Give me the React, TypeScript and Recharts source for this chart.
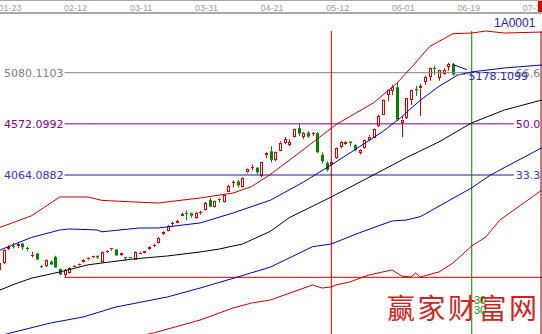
import React from "react";
import { ComposedChart, Bar, Line, XAxis, YAxis, ReferenceLine } from "recharts";

// trading days shown, 01-20 .. 06-15 (day 0 = 01-23)
const firstDay = -3;
const dates = [
  "01-20", "01-21", "01-22", "01-23", "01-26", "01-27", "01-28", "01-29", "01-30",
  "02-02", "02-03", "02-04", "02-05", "02-06", "02-09", "02-10", "02-11", "02-12", "02-13",
  "02-16", "02-17", "02-25", "02-26", "02-27",
  "03-02", "03-03", "03-04", "03-05", "03-06", "03-09", "03-10", "03-11", "03-12", "03-13",
  "03-16", "03-17", "03-18", "03-19", "03-20", "03-23", "03-24", "03-25", "03-26", "03-27",
  "03-30", "03-31",
  "04-01", "04-02", "04-03", "04-07", "04-08", "04-09", "04-10", "04-13", "04-14", "04-15",
  "04-16", "04-17", "04-20", "04-21", "04-22", "04-23", "04-24", "04-27", "04-28", "04-29", "04-30",
  "05-04", "05-05", "05-06", "05-07", "05-08", "05-11", "05-12", "05-13", "05-14", "05-15",
  "05-18", "05-19", "05-20", "05-21", "05-22", "05-25", "05-26", "05-27", "05-28", "05-29",
  "06-01", "06-02", "06-03", "06-04", "06-05", "06-08", "06-09", "06-10", "06-11", "06-12", "06-15",
];
const opens = [
  3130, 3190, 3335, 3360, 3358, 3384, 3338, 3262, 3285,
  3165, 3160, 3205, 3250, 3130, 3075, 3095, 3155, 3165, 3200,
  3225, 3248, 3262, 3205, 3298,
  3325, 3325, 3268, 3245, 3245, 3225, 3285, 3290, 3330, 3360,
  3390, 3480, 3510, 3575, 3590, 3660, 3690, 3685, 3640, 3685,
  3715, 3815,
  3750, 3828, 3795, 3900, 3985, 4000, 3945, 4090, 4140, 4138,
  4055, 4260, 4300, 4215, 4310, 4385, 4365, 4440, 4530, 4440, 4485,
  4470, 4480, 4265, 4185, 4165, 4235, 4345, 4380, 4395, 4360,
  4285, 4335, 4420, 4440, 4550, 4665, 4860, 4900, 4935, 4590,
  4630, 4810, 4920, 4925, 4990, 5040, 5125, 5030, 5075, 5140, 5165,
];
const highs = [
  3210, 3325, 3368, 3390, 3390, 3392, 3350, 3300, 3292,
  3172, 3225, 3215, 3262, 3135, 3130, 3148, 3168, 3185, 3228,
  3245, 3262, 3265, 3305, 3320,
  3340, 3330, 3290, 3250, 3250, 3308, 3305, 3310, 3355, 3385,
  3448, 3505, 3570, 3600, 3620, 3690, 3715, 3690, 3700, 3710,
  3795, 3835,
  3815, 3835, 3870, 3965, 4010, 4015, 4040, 4128, 4168, 4140,
  4195, 4290, 4350, 4300, 4400, 4440, 4420, 4525, 4570, 4490, 4500,
  4490, 4490, 4290, 4200, 4210, 4340, 4405, 4405, 4400, 4370,
  4320, 4420, 4460, 4530, 4660, 4815, 4912, 4960, 4986, 4650,
  4830, 4910, 4950, 4970, 5050, 5130, 5147, 5110, 5125, 5178.1099, 5176,
];
const lows = [
  3110, 3180, 3318, 3335, 3340, 3320, 3305, 3245, 3218,
  3140, 3150, 3170, 3140, 3068, 3048.07, 3085, 3150, 3158, 3195,
  3215, 3240, 3230, 3195, 3288,
  3310, 3260, 3260, 3215, 3225, 3220, 3278, 3285, 3320, 3350,
  3385, 3470, 3505, 3555, 3585, 3655, 3615, 3640, 3630, 3670,
  3710, 3745,
  3742, 3790, 3790, 3895, 3940, 3940, 3940, 4080, 4110, 4070,
  4040, 4230, 4190, 4200, 4300, 4370, 4350, 4435, 4450, 4420, 4435,
  4450, 4280, 4180, 4100, 4150, 4225, 4330, 4365, 4350, 4300,
  4270, 4325, 4400, 4430, 4540, 4660, 4800, 4860, 4600, 4440,
  4620, 4760, 4850, 4650, 4960, 5000, 5060, 5000, 5060, 5100, 5050,
];
const closes = [
  3195, 3320, 3350, 3354, 3380, 3345, 3325, 3272, 3225,
  3152, 3215, 3175, 3145, 3075, 3120, 3142, 3162, 3178, 3215,
  3235, 3255, 3245, 3300, 3312,
  3335, 3265, 3285, 3240, 3232, 3302, 3293, 3305, 3345, 3372,
  3440, 3495, 3560, 3585, 3605, 3675, 3685, 3660, 3690, 3695,
  3785, 3750,
  3810, 3822, 3865, 3955, 3995, 3960, 4035, 4120, 4145, 4090,
  4190, 4280, 4215, 4295, 4385, 4420, 4390, 4520, 4475, 4480, 4445,
  4478, 4290, 4200, 4115, 4195, 4335, 4395, 4395, 4380, 4310,
  4310, 4415, 4446, 4525, 4650, 4810, 4905, 4940, 4615, 4615,
  4828, 4905, 4905, 4945, 5035, 5125, 5115, 5105, 5110, 5165, 5062,
];

// date labels along the top
const tickDays = [0, 14, 28, 42, 56, 70, 84, 98, 112];
const tickLabels = ["01-23", "02-12", "03-11", "03-31", "04-21", "05-12", "06-01", "06-19", "07-10"];

// channel lines, [day, value]
const upperRed = [
  [-3, 3540], [4, 3660], [10, 3846], [16, 3846], [19, 3812], [26, 3796], [31, 3786], [40, 3836],
  [47, 3885], [51, 3950], [55, 4070], [61, 4280], [69, 4565], [77, 4780], [82, 4975], [85, 5127],
  [89, 5340], [94, 5468], [98, 5474], [101, 5494], [105, 5474], [113, 5484],
];
const upperBlue = [
  [-3, 3315], [1, 3389], [4, 3445], [10, 3518], [12, 3528], [18, 3518], [19, 3500], [27, 3538],
  [31, 3538], [40, 3588], [47, 3687], [55, 3814], [62, 3993], [68, 4164], [73, 4314], [79, 4495],
  [83, 4641], [87, 4806], [91, 4945], [95, 5056], [98, 5088], [105, 5127], [113, 5157],
];
const middle = [
  [-3, 2918], [1, 2992], [4, 3040], [10, 3101], [16, 3172], [21, 3202], [26, 3232], [33, 3260],
  [40, 3300], [44, 3328], [47, 3359], [49, 3378], [55, 3505], [59, 3640], [68, 3846], [77, 4064],
  [84, 4236], [91, 4393], [98, 4582], [105, 4710], [113, 4809],
];
const lowerBlue = [
  [-3, 2462], [-1, 2490], [8, 2594], [15, 2654], [22, 2753], [33, 2853], [40, 2942], [48, 3051],
  [55, 3150], [64, 3352], [68, 3379], [74, 3490], [81, 3608], [84, 3617], [87, 3650], [98, 3937],
  [102, 4064], [113, 4335],
];
const lowerRed = [
  [23, 2426], [30, 2495], [40, 2624], [47, 2743], [51, 2793], [55, 2823], [61, 2922], [64, 2972],
  [66, 2942], [68, 2952], [69, 2972], [72, 3002], [76, 3071], [81, 3121], [83, 3061], [85, 3051],
  [86, 3091], [87, 3051], [91, 3101], [94, 3190], [98, 3359], [101, 3448], [104, 3617], [113, 3915],
];
const pointer = [[94, 5160], [97, 5110]];

// percentage levels measured from the low of 02-09
const lowDay = 11;
const lowLevel = 3048.0662;
const levels = [5080.1103, 4572.0992, 4064.0882];
const levelNames = ["5080.1103", "4572.0992", "4064.0882"];
const levelPcts = ["66.6", "50.0", "33.3"];
const levelEnd = 107;
const peakText = "5178.1099";
const lastClose = 5062;
const markDays = [68, 98, 112.8];
const markTop = 5494;

const RED = "#d40000";
const GREEN = "#007f00";
const BAND_RED = "#c40000";
const BAND_BLUE = "#0000b0";
const levelColors = ["#808080", "#800080", "#1818a0"];
const levelTextColors = ["#808080", "#800080", "#3434c8"];
const markColors = ["#c00000", "#008000", "#800000"];
const Y_DOMAIN = [2485, 5673];
const X_DOMAIN = [-2.777, 113.01];
const FONT = "DejaVu Sans, Verdana, sans-serif";

const candles = dates.map((date, i) => ({
  day: firstDay + i,
  date,
  open: opens[i],
  high: highs[i],
  low: lows[i],
  close: closes[i],
  range: [lows[i], highs[i]],
}));

const toPoints = (pts: number[][]) => pts.map(([day, v]) => ({ day, v }));

const Candle = (props: any) => {
  const { x, y, width, height, payload } = props;
  if (payload == null || !isFinite(y) || !isFinite(height)) return null;
  const { open, close, high, low } = payload;
  const up = close >= open;
  const color = up ? RED : GREEN;
  const cx = Math.round(x + width / 2);
  const span = high - low || 1;
  const yOf = (v: number) => y + ((high - v) / span) * height;
  const top = yOf(Math.max(open, close));
  const bottom = yOf(Math.min(open, close));
  const flat = bottom - top < 1.5;
  return (
    <g>
      <line x1={cx + 0.5} x2={cx + 0.5} y1={y} y2={top} stroke={color} />
      <line x1={cx + 0.5} x2={cx + 0.5} y1={bottom} y2={y + height} stroke={color} />
      {flat ? (
        <line x1={cx - 1} x2={cx + 2} y1={Math.round(top) + 0.5} y2={Math.round(top) + 0.5} stroke={color} />
      ) : up ? (
        <rect x={cx - 0.5} y={Math.round(top) + 0.5} width={2} height={Math.round(bottom - top) - 1} fill="#fff" stroke={color} />
      ) : (
        <rect x={cx - 1} y={top} width={3} height={bottom - top} fill={color} />
      )}
    </g>
  );
};

const DateTick = (props: any) => {
  const { x, y, payload } = props;
  const idx = tickDays.indexOf(payload.value);
  return (
    <text x={x - 3} y={y} textAnchor="middle" fontSize={9} fill="#9c9c9c" fontFamily="Liberation Sans, Arial, sans-serif">
      {tickLabels[idx]}
    </text>
  );
};

const levelLabel = (i: number) => (props: any) => {
  const { x, y, width } = props.viewBox;
  return (
    <g fontFamily={FONT} fontSize={11}>
      <text x={x - 1} y={y + 4} textAnchor="end" fill={levelTextColors[i]}>{levelNames[i]}</text>
      <text x={x + width + 2} y={y + 4} fill={levelTextColors[i]}>{levelPcts[i]}</text>
    </g>
  );
};

const peakLabel = (props: any) => {
  const { x, y, width } = props.viewBox;
  return (
    <text x={x + width} y={y + 5} fontFamily={FONT} fontSize={11} fill="#2626b8">{peakText}</text>
  );
};

const bands = [
  { pts: upperRed, color: BAND_RED },
  { pts: upperBlue, color: BAND_BLUE },
  { pts: middle, color: "#000000" },
  { pts: lowerBlue, color: BAND_BLUE },
  { pts: lowerRed, color: BAND_RED },
  { pts: pointer, color: BAND_BLUE },
];

const App: React.FC = () => {
  return (
    <div style={{ position: "absolute", left: 0, top: 0, width: 542, height: 334, overflow: "hidden", background: "#fff" }}>
      <ComposedChart width={542} height={334} data={candles} margin={{ top: 0, right: 0, bottom: 0, left: 0 }}>
        <XAxis
          dataKey="day"
          type="number"
          orientation="top"
          height={13}
          domain={X_DOMAIN}
          allowDataOverflow
          ticks={tickDays}
          interval={0}
          tick={<DateTick />}
          tickLine={false}
          tickSize={0}
          tickMargin={2}
          axisLine={{ stroke: "#a8a8a8", strokeWidth: 2 }}
        />
        <YAxis type="number" domain={Y_DOMAIN} allowDataOverflow hide />

        <ReferenceLine
          segment={[{ x: lowDay, y: lowLevel }, { x: 113, y: lowLevel }]}
          stroke={BAND_RED}
          ifOverflow="visible"
        />
        {levels.map((v, i) => (
          <ReferenceLine
            key={levelNames[i]}
            segment={[{ x: lowDay, y: v }, { x: levelEnd, y: v }]}
            stroke={levelColors[i]}
            ifOverflow="visible"
            label={levelLabel(i)}
          />
        ))}
        {markDays.map((d, i) => (
          <ReferenceLine
            key={d}
            segment={[{ x: d, y: markTop }, { x: d, y: Y_DOMAIN[0] }]}
            stroke={markColors[i]}
            ifOverflow="visible"
          />
        ))}

        {bands.map((b, i) => (
          <Line
            key={i}
            data={toPoints(b.pts)}
            dataKey="v"
            type="linear"
            stroke={b.color}
            strokeWidth={1}
            dot={false}
            activeDot={false}
            isAnimationActive={false}
          />
        ))}

        <Bar dataKey="range" shape={<Candle />} isAnimationActive={false} />

        <ReferenceLine
          segment={[{ x: 94.4, y: lastClose }, { x: 97.3, y: lastClose }]}
          stroke="#808080"
          strokeDasharray="2 2"
          ifOverflow="visible"
          label={peakLabel}
        />
      </ComposedChart>

      <div style={{ position: "absolute", left: 0, top: 0, width: 542, height: 1, background: "#a8a8a8" }} />
      <div style={{ position: "absolute", left: 538, top: 1, width: 4, height: 11, background: "#e00000" }} />
      <div style={{ position: "absolute", left: 494, top: 17, fontFamily: "Liberation Sans, Arial, sans-serif", fontSize: 12, lineHeight: "12px", color: "#1c1ca8" }}>
        1A0001
      </div>
      <div style={{ position: "absolute", left: 387, top: 293, fontFamily: "Noto Sans CJK SC, sans-serif", fontSize: 28, lineHeight: "28px", letterSpacing: 2.5, color: "#d02424", whiteSpace: "nowrap" }}>
        赢家财富网
      </div>
      <div style={{ position: "absolute", left: 474, top: 295, fontFamily: "Liberation Sans, Arial, sans-serif", fontSize: 11, lineHeight: "11px", color: "#109010" }}>
        30
      </div>
      <div style={{ position: "absolute", left: 474, top: 305, fontFamily: "Liberation Sans, Arial, sans-serif", fontSize: 11, lineHeight: "11px", color: "#109010" }}>
        30
      </div>
    </div>
  );
};

export default App;
